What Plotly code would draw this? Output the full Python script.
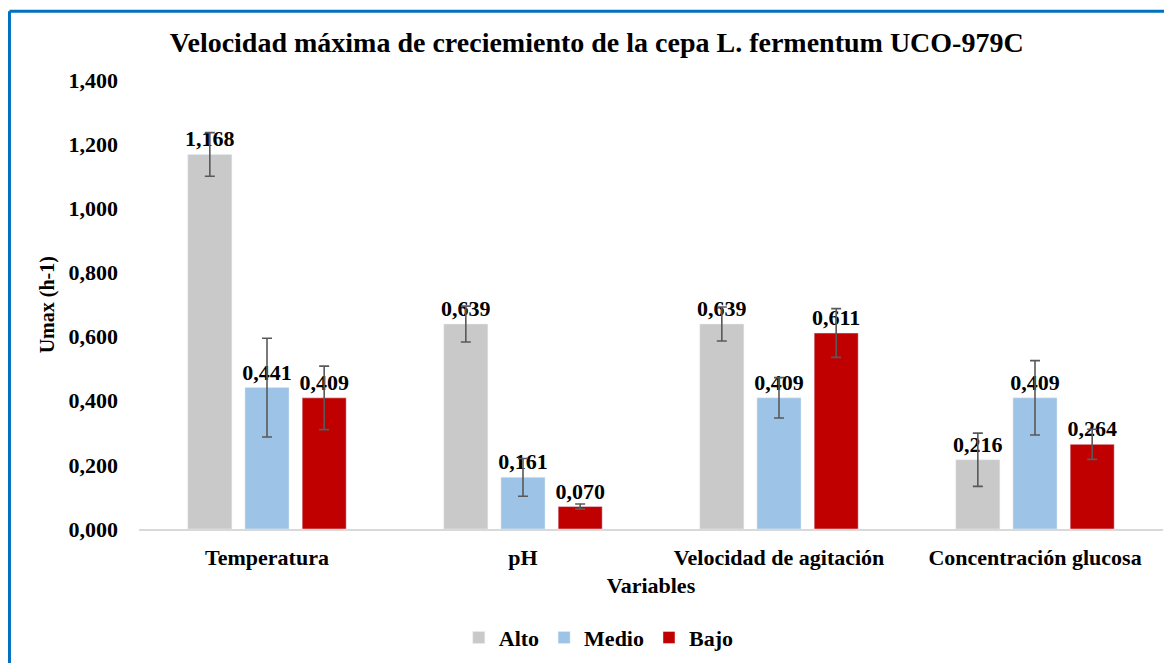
import plotly.graph_objects as go

variables = ["Temperatura", "pH", "Velocidad de agitación", "Concentración glucosa"]

alto = [1.168, 0.639, 0.639, 0.216]
medio = [0.441, 0.161, 0.409, 0.409]
bajo = [0.409, 0.070, 0.611, 0.264]

alto_err = [0.068, 0.056, 0.053, 0.083]
medio_err = [0.154, 0.059, 0.063, 0.116]
bajo_err = [0.099, 0.008, 0.076, 0.047]

series = [
    ("Alto", alto, alto_err, "#C9C9C9"),
    ("Medio", medio, medio_err, "#9DC3E6"),
    ("Bajo", bajo, bajo_err, "#C00000"),
]

FONT = "Liberation Serif"

fig = go.Figure()

for name, vals, err, color in series:
    fig.add_trace(go.Bar(
        x=variables,
        y=vals,
        name=name,
        marker=dict(color=color),
        error_y=dict(type="data", array=err, visible=True,
                     color="#595959", thickness=1.6, width=5),
        texttemplate="%{y:.3f}",
        textposition="outside",
        constraintext="none",
        cliponaxis=False,
        textfont=dict(family=FONT, size=22, color="black", weight="bold"),
    ))

# page has an 8px body margin, so margins are shifted to compensate
fig.update_layout(
    width=1172,
    height=663,
    barmode="group",
    bargap=0.33,
    bargroupgap=0.23,
    separators=",.",
    plot_bgcolor="white",
    paper_bgcolor="white",
    margin=dict(l=131, r=17, t=72, b=140),
    font=dict(family=FONT, size=20, color="black", weight="bold"),
    title=dict(
        text="<b>Velocidad máxima de creciemiento de la cepa L. fermentum UCO-979C</b>",
        x=0.447, xref="paper", xanchor="center",
        y=0.9487, yref="container", yanchor="middle",
        font=dict(family=FONT, size=28, color="black"),
    ),
    yaxis=dict(
        range=[0, 1.4],
        dtick=0.2,
        tickformat=".3f",
        showgrid=False,
        zeroline=False,
        showline=False,
        ticklabelstandoff=20,
        tickfont=dict(family=FONT, size=22, color="black", weight="bold"),
    ),
    xaxis=dict(
        showline=True,
        linecolor="#D9D9D9",
        linewidth=2,
        ticks="",
        ticklabelstandoff=8,
        tickfont=dict(family=FONT, size=22, color="black", weight="bold"),
        title=dict(text="<b>Variables</b>", standoff=8,
                   font=dict(family=FONT, size=22, color="black")),
    ),
    legend=dict(
        orientation="h",
        x=0.449, xanchor="center",
        y=-0.242, yanchor="middle",
        font=dict(family=FONT, size=22, color="black", weight="bold"),
        itemwidth=30,
        traceorder="normal",
    ),
    annotations=[dict(
        text="<b>Umax (h-1)</b>",
        textangle=-90,
        x=-0.089, xref="paper", xanchor="center",
        y=0.5, yref="paper", yanchor="middle",
        showarrow=False,
        font=dict(family=FONT, size=20, color="black"),
    )],
    shapes=[
        dict(type="line", xref="paper", yref="paper",
             x0=-0.1265, x1=1.2, y0=1.153, y1=1.153,
             line=dict(color="#0070C0", width=3)),
        dict(type="line", xref="paper", yref="paper",
             x0=-0.1265, x1=-0.1265, y0=1.153, y1=-0.4,
             line=dict(color="#0070C0", width=3)),
    ],
)

fig.write_html("out.html")
